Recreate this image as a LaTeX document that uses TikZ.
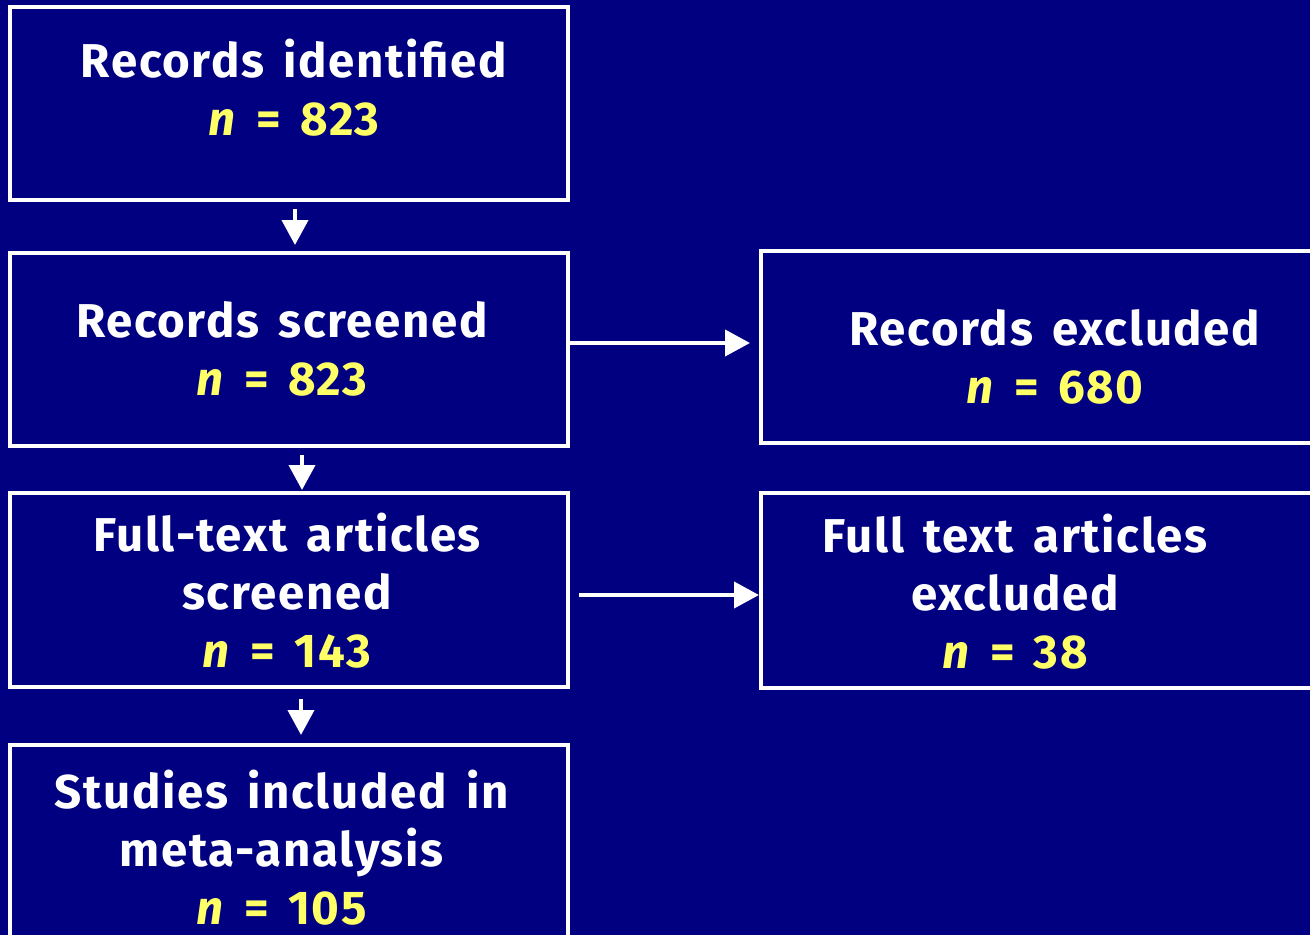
\documentclass[tikz,border=0pt]{standalone}
\usepackage{fontspec}
\setmainfont{Fira Sans}[WordSpace=1.5, LetterSpace=3.5]
\usetikzlibrary{arrows.meta}

\definecolor{navy}{HTML}{000080}
\definecolor{numyellow}{HTML}{FFFF66}

\tikzset{
  box/.style={draw=white, line width=0.08cm, rectangle, inner sep=0pt},
  txt/.style={text=white, align=center, font=\fontsize{27}{33}\selectfont\bfseries},
  arr/.style={draw=white, line width=0.08cm, -{Triangle[length=0.5cm,width=0.52cm]}}
}
\newcommand{\nval}[1]{\textcolor{numyellow}{\textit{n} = #1}}

\begin{document}
\begin{tikzpicture}
			\clip (0,0) rectangle (26.2,-18.7);
			\fill[navy] (0,0) rectangle (26.2,-18.7);

			% left column
			\node[box, minimum width=11.16cm, minimum height=3.86cm] (b1) at (5.78,-2.07) {};
			\node[box, minimum width=11.16cm, minimum height=3.86cm] (b2) at (5.78,-6.99) {};
			\node[box, minimum width=11.16cm, minimum height=3.88cm] (b3) at (5.78,-11.80) {};
			\node[box, minimum width=11.16cm, minimum height=3.96cm] (b4) at (5.78,-16.88) {};

			% right column
			\node[box, minimum width=12cm, minimum height=3.84cm] (b5) at (21.22,-6.94) {};
			\node[box, minimum width=12cm, minimum height=3.90cm] (b6) at (21.22,-11.81) {};

			\node[txt] (t1) at (5.88,-1.75) {Records identified\\ \nval{823}};
			\node[txt] (t2) at (5.64,-6.98) {Records screened\\ \nval{823}};
			\node[txt] (t3) at (5.74,-11.82) {Full-text articles\\ screened\\ \nval{143}};
			\node[txt] (t4) at (5.63,-16.96) {Studies included in\\ meta-analysis\\ \nval{105}};
			\node[txt] (t5) at (21.10,-7.14) {Records excluded\\ \nval{680}};
			\node[txt] (t6) at (20.30,-11.84) {Full text articles\\ excluded\\ \nval{38}};

			\draw[arr] ([xshift=0.12cm,yshift=-0.14cm]b1.south) -- ([xshift=0.12cm,yshift=0.12cm]b2.north);
			\draw[arr] ([xshift=0.26cm,yshift=-0.14cm]b2.south) -- ([xshift=0.26cm,yshift=0.02cm]b3.north);
			\draw[arr] ([xshift=0.24cm,yshift=-0.20cm]b3.south) -- ([xshift=0.24cm,yshift=0.16cm]b4.north);
			\draw[arr] ([yshift=0.13cm]b2.east) -- ([xshift=-0.18cm,yshift=0.13cm]b2.east -| b5.west);
			\draw[arr] ([xshift=0.18cm,yshift=-0.10cm]b3.east) -- ([yshift=-0.10cm]b3.east -| b6.west);
		\end{tikzpicture}
\end{document}
